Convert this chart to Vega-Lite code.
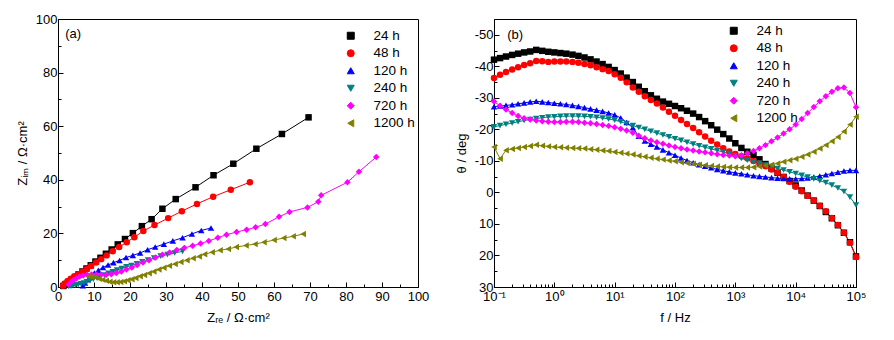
{
"$schema": "https://vega.github.io/schema/vega-lite/v6.json",
"background": "white",
"padding": {"left": 15, "top": 12, "right": 5, "bottom": 5},
"bounds": "flush",
"spacing": 76,
"config": {
  "font": "Liberation Sans",
  "view": {"stroke": "black", "strokeWidth": 1},
  "axis": {"grid": false, "domainColor": "black", "tickColor": "black", "labelColor": "black", "titleColor": "black", "labelFont": "Liberation Sans", "titleFont": "Liberation Sans", "labelFontSize": 13, "titleFontSize": 13, "titleFontWeight": "normal", "labelFlush": false, "labelOverlap": false, "tickSize": -5, "tickWidth": 1, "domainWidth": 1, "labelPadding": 6},
  "axisX": {"labelPadding": 8},
  "legend": {"symbolSize": 49, "labelFontSize": 13.5, "labelFont": "Liberation Sans", "labelColor": "black", "labelOffset": 16, "rowPadding": 2.5, "padding": 0, "symbolStrokeWidth": 1, "orient": "none", "title": null}
},
"resolve": {"scale": {"color": "independent", "shape": "independent"}, "legend": {"color": "independent", "shape": "independent"}},
"datasets": {
"nyq": [
{"s":"24 h","x":1.5,"y":0.4},{"s":"24 h","x":2.0,"y":1.0},{"s":"24 h","x":2.8,"y":1.8},{"s":"24 h","x":3.7,"y":2.7},{"s":"24 h","x":4.7,"y":3.7},{"s":"24 h","x":5.7,"y":4.7},{"s":"24 h","x":6.8,"y":5.8},{"s":"24 h","x":7.9,"y":6.9},{"s":"24 h","x":9.1,"y":8.1},{"s":"24 h","x":10.4,"y":9.5},{"s":"24 h","x":11.8,"y":10.9},{"s":"24 h","x":13.3,"y":12.4},{"s":"24 h","x":14.9,"y":14.0},{"s":"24 h","x":16.6,"y":15.9},{"s":"24 h","x":18.6,"y":17.9},{"s":"24 h","x":20.8,"y":20.1},{"s":"24 h","x":23.3,"y":22.7},{"s":"24 h","x":26.0,"y":25.3},{"s":"24 h","x":29.0,"y":29.2},{"s":"24 h","x":32.7,"y":32.8},{"s":"24 h","x":38.2,"y":37.2},{"s":"24 h","x":43.2,"y":41.7},{"s":"24 h","x":48.7,"y":46.0},{"s":"24 h","x":55.1,"y":51.6},{"s":"24 h","x":62.2,"y":57.1},{"s":"24 h","x":69.6,"y":63.3},
{"s":"48 h","x":1.4,"y":0.5},{"s":"48 h","x":1.9,"y":1.3},{"s":"48 h","x":2.7,"y":2.2},{"s":"48 h","x":3.6,"y":3.1},{"s":"48 h","x":4.6,"y":4.0},{"s":"48 h","x":5.7,"y":4.8},{"s":"48 h","x":6.8,"y":5.7},{"s":"48 h","x":7.9,"y":6.6},{"s":"48 h","x":9.2,"y":7.8},{"s":"48 h","x":10.6,"y":9.1},{"s":"48 h","x":12.0,"y":10.4},{"s":"48 h","x":13.5,"y":11.8},{"s":"48 h","x":15.2,"y":13.3},{"s":"48 h","x":17.0,"y":14.9},{"s":"48 h","x":19.1,"y":16.7},{"s":"48 h","x":21.2,"y":18.6},{"s":"48 h","x":23.7,"y":20.9},{"s":"48 h","x":26.8,"y":23.1},{"s":"48 h","x":30.6,"y":25.7},{"s":"48 h","x":34.4,"y":28.3},{"s":"48 h","x":38.6,"y":31.0},{"s":"48 h","x":43.1,"y":33.7},{"s":"48 h","x":48.0,"y":36.3},{"s":"48 h","x":53.3,"y":39.1},
{"s":"120 h","x":6.9,"y":0.5},{"s":"120 h","x":7.5,"y":1.5},{"s":"120 h","x":8.3,"y":2.7},{"s":"120 h","x":9.1,"y":4.0},{"s":"120 h","x":10.1,"y":5.2},{"s":"120 h","x":11.2,"y":6.2},{"s":"120 h","x":12.5,"y":7.3},{"s":"120 h","x":13.9,"y":8.2},{"s":"120 h","x":15.4,"y":9.1},{"s":"120 h","x":17.1,"y":9.9},{"s":"120 h","x":18.9,"y":11.0},{"s":"120 h","x":20.8,"y":11.8},{"s":"120 h","x":22.8,"y":12.7},{"s":"120 h","x":24.9,"y":13.9},{"s":"120 h","x":27.0,"y":14.9},{"s":"120 h","x":29.4,"y":16.0},{"s":"120 h","x":31.9,"y":17.2},{"s":"120 h","x":34.6,"y":18.4},{"s":"120 h","x":37.2,"y":19.8},{"s":"120 h","x":39.8,"y":21.1},{"s":"120 h","x":42.5,"y":22.0},
{"s":"240 h","x":3.0,"y":0.2},{"s":"240 h","x":3.6,"y":0.3},{"s":"240 h","x":4.2,"y":0.5},{"s":"240 h","x":4.9,"y":0.7},{"s":"240 h","x":5.6,"y":0.9},{"s":"240 h","x":6.4,"y":1.2},{"s":"240 h","x":7.2,"y":1.5},{"s":"240 h","x":8.0,"y":1.9},{"s":"240 h","x":8.9,"y":2.4},{"s":"240 h","x":9.8,"y":2.9},{"s":"240 h","x":10.8,"y":3.4},{"s":"240 h","x":11.8,"y":4.0},{"s":"240 h","x":12.9,"y":4.5},{"s":"240 h","x":14.0,"y":5.1},{"s":"240 h","x":15.2,"y":5.7},{"s":"240 h","x":16.4,"y":6.3},{"s":"240 h","x":17.7,"y":6.9},{"s":"240 h","x":19.0,"y":7.5},{"s":"240 h","x":20.4,"y":8.0},{"s":"240 h","x":21.9,"y":8.7},{"s":"240 h","x":23.4,"y":9.4},{"s":"240 h","x":25.0,"y":10.1},{"s":"240 h","x":26.7,"y":10.8},{"s":"240 h","x":28.5,"y":11.5},{"s":"240 h","x":30.4,"y":12.1},{"s":"240 h","x":32.4,"y":12.7},{"s":"240 h","x":34.6,"y":13.3},
{"s":"720 h","x":3.0,"y":1.0},{"s":"720 h","x":3.6,"y":1.8},{"s":"720 h","x":4.3,"y":2.6},{"s":"720 h","x":5.1,"y":3.3},{"s":"720 h","x":6.0,"y":3.9},{"s":"720 h","x":7.0,"y":4.3},{"s":"720 h","x":8.1,"y":4.6},{"s":"720 h","x":9.3,"y":4.7},{"s":"720 h","x":10.6,"y":4.7},{"s":"720 h","x":12.0,"y":4.6},{"s":"720 h","x":13.4,"y":4.6},{"s":"720 h","x":14.8,"y":4.8},{"s":"720 h","x":16.2,"y":5.2},{"s":"720 h","x":17.6,"y":5.8},{"s":"720 h","x":19.0,"y":6.5},{"s":"720 h","x":20.5,"y":7.3},{"s":"720 h","x":22.0,"y":8.2},{"s":"720 h","x":23.6,"y":9.1},{"s":"720 h","x":25.3,"y":10.0},{"s":"720 h","x":27.1,"y":11.0},{"s":"720 h","x":29.0,"y":12.0},{"s":"720 h","x":31.0,"y":12.9},{"s":"720 h","x":33.0,"y":13.8},{"s":"720 h","x":35.1,"y":14.6},{"s":"720 h","x":37.4,"y":15.4},{"s":"720 h","x":39.6,"y":16.2},{"s":"720 h","x":41.9,"y":17.2},{"s":"720 h","x":44.4,"y":18.4},{"s":"720 h","x":46.8,"y":19.5},{"s":"720 h","x":49.6,"y":20.5},{"s":"720 h","x":52.4,"y":21.4},{"s":"720 h","x":54.9,"y":22.3},{"s":"720 h","x":57.6,"y":23.5},{"s":"720 h","x":61.4,"y":26.2},{"s":"720 h","x":64.3,"y":28.0},{"s":"720 h","x":69.3,"y":29.7},{"s":"720 h","x":72.3,"y":31.8},{"s":"720 h","x":73.1,"y":34.2},{"s":"720 h","x":80.4,"y":39.1},{"s":"720 h","x":83.6,"y":43.0},{"s":"720 h","x":88.4,"y":48.5},
{"s":"1200 h","x":8.5,"y":3.9},{"s":"1200 h","x":9.4,"y":3.8},{"s":"1200 h","x":10.4,"y":3.5},{"s":"1200 h","x":11.4,"y":3.1},{"s":"1200 h","x":12.4,"y":2.7},{"s":"1200 h","x":13.4,"y":2.3},{"s":"1200 h","x":14.4,"y":2.0},{"s":"1200 h","x":15.4,"y":1.8},{"s":"1200 h","x":16.4,"y":1.8},{"s":"1200 h","x":17.4,"y":1.9},{"s":"1200 h","x":18.4,"y":2.1},{"s":"1200 h","x":19.4,"y":2.5},{"s":"1200 h","x":20.5,"y":2.9},{"s":"1200 h","x":21.6,"y":3.4},{"s":"1200 h","x":22.8,"y":4.0},{"s":"1200 h","x":24.0,"y":4.5},{"s":"1200 h","x":25.3,"y":5.1},{"s":"1200 h","x":26.6,"y":5.8},{"s":"1200 h","x":28.0,"y":6.5},{"s":"1200 h","x":29.4,"y":7.2},{"s":"1200 h","x":30.9,"y":7.9},{"s":"1200 h","x":32.5,"y":8.6},{"s":"1200 h","x":34.1,"y":9.3},{"s":"1200 h","x":35.8,"y":10.0},{"s":"1200 h","x":37.5,"y":10.7},{"s":"1200 h","x":39.2,"y":11.4},{"s":"1200 h","x":40.7,"y":12.2},{"s":"1200 h","x":42.8,"y":13.0},{"s":"1200 h","x":45.0,"y":13.7},{"s":"1200 h","x":47.3,"y":14.2},{"s":"1200 h","x":49.5,"y":14.9},{"s":"1200 h","x":52.2,"y":15.5},{"s":"1200 h","x":54.7,"y":16.0},{"s":"1200 h","x":57.2,"y":16.7},{"s":"1200 h","x":60.0,"y":17.5},{"s":"1200 h","x":62.7,"y":18.3},{"s":"1200 h","x":65.3,"y":18.9},{"s":"1200 h","x":68.1,"y":19.8}
],
"bode": [
{"s":"24 h","f":0.1,"t":-42.1},{"s":"24 h","f":0.126,"t":-42.6},{"s":"24 h","f":0.158,"t":-43.1},{"s":"24 h","f":0.2,"t":-43.6},{"s":"24 h","f":0.251,"t":-44.0},{"s":"24 h","f":0.316,"t":-44.4},{"s":"24 h","f":0.398,"t":-44.7},{"s":"24 h","f":0.501,"t":-45.2},{"s":"24 h","f":0.631,"t":-44.9},{"s":"24 h","f":0.794,"t":-44.6},
{"s":"24 h","f":1,"t":-44.4},{"s":"24 h","f":1.26,"t":-44.2},{"s":"24 h","f":1.58,"t":-44.0},{"s":"24 h","f":2,"t":-43.7},{"s":"24 h","f":2.51,"t":-43.3},{"s":"24 h","f":3.16,"t":-42.8},{"s":"24 h","f":3.98,"t":-42.2},{"s":"24 h","f":5.01,"t":-41.5},{"s":"24 h","f":6.31,"t":-40.7},{"s":"24 h","f":7.94,"t":-39.8},
{"s":"24 h","f":10,"t":-38.8},{"s":"24 h","f":12.6,"t":-37.7},{"s":"24 h","f":15.8,"t":-36.4},{"s":"24 h","f":20,"t":-35.0},{"s":"24 h","f":25.1,"t":-33.5},{"s":"24 h","f":31.6,"t":-32.1},{"s":"24 h","f":39.8,"t":-30.8},{"s":"24 h","f":50.1,"t":-29.7},{"s":"24 h","f":63.1,"t":-28.8},{"s":"24 h","f":79.4,"t":-28.1},
{"s":"24 h","f":100,"t":-27.4},{"s":"24 h","f":126,"t":-26.7},{"s":"24 h","f":158,"t":-25.9},{"s":"24 h","f":200,"t":-25.0},{"s":"24 h","f":251,"t":-23.9},{"s":"24 h","f":316,"t":-22.6},{"s":"24 h","f":398,"t":-21.3},{"s":"24 h","f":501,"t":-19.9},{"s":"24 h","f":631,"t":-18.5},{"s":"24 h","f":794,"t":-17.1},
{"s":"24 h","f":1000,"t":-15.6},{"s":"24 h","f":1260,"t":-14.1},{"s":"24 h","f":1580,"t":-12.9},{"s":"24 h","f":2000,"t":-11.8},{"s":"24 h","f":2510,"t":-10.5},{"s":"24 h","f":3160,"t":-9.0},{"s":"24 h","f":3980,"t":-7.6},{"s":"24 h","f":5010,"t":-6.2},{"s":"24 h","f":6310,"t":-4.9},{"s":"24 h","f":7940,"t":-3.6},
{"s":"24 h","f":10000,"t":-2.2},{"s":"24 h","f":12600,"t":-0.6},{"s":"24 h","f":15800,"t":1.0},{"s":"24 h","f":20000,"t":2.6},{"s":"24 h","f":25100,"t":4.3},{"s":"24 h","f":31600,"t":6.2},{"s":"24 h","f":39800,"t":8.2},{"s":"24 h","f":50100,"t":10.4},{"s":"24 h","f":63100,"t":12.8},{"s":"24 h","f":79400,"t":15.8},{"s":"24 h","f":100000,"t":20.3},
{"s":"48 h","f":0.1,"t":-36.3},{"s":"48 h","f":0.126,"t":-37.3},{"s":"48 h","f":0.158,"t":-38.2},{"s":"48 h","f":0.2,"t":-39.0},{"s":"48 h","f":0.251,"t":-39.7},{"s":"48 h","f":0.316,"t":-40.4},{"s":"48 h","f":0.398,"t":-41.0},{"s":"48 h","f":0.501,"t":-41.7},{"s":"48 h","f":0.631,"t":-41.6},{"s":"48 h","f":0.794,"t":-41.4},
{"s":"48 h","f":1,"t":-41.5},{"s":"48 h","f":1.26,"t":-41.5},{"s":"48 h","f":1.58,"t":-41.5},{"s":"48 h","f":2,"t":-41.4},{"s":"48 h","f":2.51,"t":-41.1},{"s":"48 h","f":3.16,"t":-40.7},{"s":"48 h","f":3.98,"t":-40.3},{"s":"48 h","f":5.01,"t":-39.7},{"s":"48 h","f":6.31,"t":-39.1},{"s":"48 h","f":7.94,"t":-38.5},
{"s":"48 h","f":10,"t":-37.5},{"s":"48 h","f":12.6,"t":-36.4},{"s":"48 h","f":15.8,"t":-34.9},{"s":"48 h","f":20,"t":-33.3},{"s":"48 h","f":25.1,"t":-31.9},{"s":"48 h","f":31.6,"t":-30.5},{"s":"48 h","f":39.8,"t":-29.3},{"s":"48 h","f":50.1,"t":-28.2},{"s":"48 h","f":63.1,"t":-26.9},{"s":"48 h","f":79.4,"t":-25.6},
{"s":"48 h","f":100,"t":-24.3},{"s":"48 h","f":126,"t":-23.0},{"s":"48 h","f":158,"t":-21.7},{"s":"48 h","f":200,"t":-20.4},{"s":"48 h","f":251,"t":-19.1},{"s":"48 h","f":316,"t":-17.7},{"s":"48 h","f":398,"t":-16.4},{"s":"48 h","f":501,"t":-15.2},{"s":"48 h","f":631,"t":-14.0},{"s":"48 h","f":794,"t":-13.0},
{"s":"48 h","f":1000,"t":-12.2},{"s":"48 h","f":1260,"t":-11.5},{"s":"48 h","f":1580,"t":-10.8},{"s":"48 h","f":2000,"t":-10.0},{"s":"48 h","f":2510,"t":-9.2},{"s":"48 h","f":3160,"t":-8.3},{"s":"48 h","f":3980,"t":-7.3},{"s":"48 h","f":5010,"t":-6.2},{"s":"48 h","f":6310,"t":-4.9},{"s":"48 h","f":7940,"t":-3.4},
{"s":"48 h","f":10000,"t":-1.8},{"s":"48 h","f":12600,"t":-0.4},{"s":"48 h","f":15800,"t":1.1},{"s":"48 h","f":20000,"t":2.6},{"s":"48 h","f":25100,"t":4.2},{"s":"48 h","f":31600,"t":6.0},{"s":"48 h","f":39800,"t":8.1},{"s":"48 h","f":50100,"t":10.3},{"s":"48 h","f":63100,"t":12.8},{"s":"48 h","f":79400,"t":16.0},{"s":"48 h","f":100000,"t":20.5},
{"s":"120 h","f":0.1,"t":-27.2},{"s":"120 h","f":0.126,"t":-27.4},{"s":"120 h","f":0.158,"t":-27.6},{"s":"120 h","f":0.2,"t":-27.8},{"s":"120 h","f":0.251,"t":-28.1},{"s":"120 h","f":0.316,"t":-28.4},{"s":"120 h","f":0.398,"t":-28.7},{"s":"120 h","f":0.501,"t":-28.9},{"s":"120 h","f":0.631,"t":-28.7},{"s":"120 h","f":0.794,"t":-28.5},
{"s":"120 h","f":1,"t":-28.3},{"s":"120 h","f":1.26,"t":-28.1},{"s":"120 h","f":1.58,"t":-27.9},{"s":"120 h","f":2,"t":-27.6},{"s":"120 h","f":2.51,"t":-27.3},{"s":"120 h","f":3.16,"t":-26.9},{"s":"120 h","f":3.98,"t":-26.5},{"s":"120 h","f":5.01,"t":-26.1},{"s":"120 h","f":6.31,"t":-25.7},{"s":"120 h","f":7.94,"t":-25.2},
{"s":"120 h","f":10,"t":-24.6},{"s":"120 h","f":12.6,"t":-23.6},{"s":"120 h","f":15.8,"t":-22.2},{"s":"120 h","f":20,"t":-20.5},{"s":"120 h","f":25.1,"t":-17.8},{"s":"120 h","f":31.6,"t":-16.3},{"s":"120 h","f":39.8,"t":-15.3},{"s":"120 h","f":50.1,"t":-14.4},{"s":"120 h","f":63.1,"t":-13.5},{"s":"120 h","f":79.4,"t":-12.6},
{"s":"120 h","f":100,"t":-11.8},{"s":"120 h","f":126,"t":-10.9},{"s":"120 h","f":158,"t":-10.1},{"s":"120 h","f":200,"t":-9.4},{"s":"120 h","f":251,"t":-8.8},{"s":"120 h","f":316,"t":-8.3},{"s":"120 h","f":398,"t":-7.8},{"s":"120 h","f":501,"t":-7.3},{"s":"120 h","f":631,"t":-6.9},{"s":"120 h","f":794,"t":-6.5},
{"s":"120 h","f":1000,"t":-6.2},{"s":"120 h","f":1260,"t":-5.9},{"s":"120 h","f":1580,"t":-5.6},{"s":"120 h","f":2000,"t":-5.3},{"s":"120 h","f":2510,"t":-5.1},{"s":"120 h","f":3160,"t":-4.9},{"s":"120 h","f":3980,"t":-4.7},{"s":"120 h","f":5010,"t":-4.5},{"s":"120 h","f":6310,"t":-4.4},{"s":"120 h","f":7940,"t":-4.3},
{"s":"120 h","f":10000,"t":-4.3},{"s":"120 h","f":12600,"t":-4.4},{"s":"120 h","f":15800,"t":-4.6},{"s":"120 h","f":20000,"t":-4.9},{"s":"120 h","f":25100,"t":-5.2},{"s":"120 h","f":31600,"t":-5.6},{"s":"120 h","f":39800,"t":-6.0},{"s":"120 h","f":50100,"t":-6.4},{"s":"120 h","f":63100,"t":-6.8},{"s":"120 h","f":79400,"t":-7.0},{"s":"120 h","f":100000,"t":-7.0},
{"s":"240 h","f":0.1,"t":-20.8},{"s":"240 h","f":0.126,"t":-21.2},{"s":"240 h","f":0.158,"t":-21.6},{"s":"240 h","f":0.2,"t":-22.0},{"s":"240 h","f":0.251,"t":-22.4},{"s":"240 h","f":0.316,"t":-22.8},{"s":"240 h","f":0.398,"t":-23.1},{"s":"240 h","f":0.501,"t":-23.4},{"s":"240 h","f":0.631,"t":-23.7},{"s":"240 h","f":0.794,"t":-23.9},
{"s":"240 h","f":1,"t":-24.0},{"s":"240 h","f":1.26,"t":-24.1},{"s":"240 h","f":1.58,"t":-24.2},{"s":"240 h","f":2,"t":-24.2},{"s":"240 h","f":2.51,"t":-24.2},{"s":"240 h","f":3.16,"t":-24.1},{"s":"240 h","f":3.98,"t":-24.0},{"s":"240 h","f":5.01,"t":-23.8},{"s":"240 h","f":6.31,"t":-23.6},{"s":"240 h","f":7.94,"t":-23.3},
{"s":"240 h","f":10,"t":-22.9},{"s":"240 h","f":12.6,"t":-22.4},{"s":"240 h","f":15.8,"t":-21.8},{"s":"240 h","f":20,"t":-21.2},{"s":"240 h","f":25.1,"t":-20.6},{"s":"240 h","f":31.6,"t":-20.0},{"s":"240 h","f":39.8,"t":-19.4},{"s":"240 h","f":50.1,"t":-18.8},{"s":"240 h","f":63.1,"t":-18.2},{"s":"240 h","f":79.4,"t":-17.6},
{"s":"240 h","f":100,"t":-17.0},{"s":"240 h","f":126,"t":-16.5},{"s":"240 h","f":158,"t":-15.9},{"s":"240 h","f":200,"t":-15.3},{"s":"240 h","f":251,"t":-14.8},{"s":"240 h","f":316,"t":-14.3},{"s":"240 h","f":398,"t":-13.8},{"s":"240 h","f":501,"t":-13.3},{"s":"240 h","f":631,"t":-12.8},{"s":"240 h","f":794,"t":-12.3},
{"s":"240 h","f":1000,"t":-11.6},{"s":"240 h","f":1260,"t":-10.8},{"s":"240 h","f":1580,"t":-10.2},{"s":"240 h","f":2000,"t":-9.7},{"s":"240 h","f":2510,"t":-9.2},{"s":"240 h","f":3160,"t":-8.7},{"s":"240 h","f":3980,"t":-8.2},{"s":"240 h","f":5010,"t":-7.6},{"s":"240 h","f":6310,"t":-7.1},{"s":"240 h","f":7940,"t":-6.5},
{"s":"240 h","f":10000,"t":-6.0},{"s":"240 h","f":12600,"t":-5.4},{"s":"240 h","f":15800,"t":-4.9},{"s":"240 h","f":20000,"t":-4.3},{"s":"240 h","f":25100,"t":-3.7},{"s":"240 h","f":31600,"t":-3.1},{"s":"240 h","f":39800,"t":-2.3},{"s":"240 h","f":50100,"t":-1.4},{"s":"240 h","f":63100,"t":-0.3},{"s":"240 h","f":79400,"t":1.5},{"s":"240 h","f":100000,"t":4.0},
{"s":"720 h","f":0.1,"t":-28.8},{"s":"720 h","f":0.126,"t":-27.5},{"s":"720 h","f":0.158,"t":-26.3},{"s":"720 h","f":0.2,"t":-25.2},{"s":"720 h","f":0.251,"t":-24.2},{"s":"720 h","f":0.316,"t":-23.5},{"s":"720 h","f":0.398,"t":-23.1},{"s":"720 h","f":0.501,"t":-22.8},{"s":"720 h","f":0.631,"t":-22.6},{"s":"720 h","f":0.794,"t":-22.4},
{"s":"720 h","f":1,"t":-22.3},{"s":"720 h","f":1.26,"t":-22.3},{"s":"720 h","f":1.58,"t":-22.4},{"s":"720 h","f":2,"t":-22.4},{"s":"720 h","f":2.51,"t":-22.3},{"s":"720 h","f":3.16,"t":-22.1},{"s":"720 h","f":3.98,"t":-21.9},{"s":"720 h","f":5.01,"t":-21.7},{"s":"720 h","f":6.31,"t":-21.4},{"s":"720 h","f":7.94,"t":-21.1},
{"s":"720 h","f":10,"t":-20.7},{"s":"720 h","f":12.6,"t":-20.2},{"s":"720 h","f":15.8,"t":-19.6},{"s":"720 h","f":20,"t":-18.9},{"s":"720 h","f":25.1,"t":-18.0},{"s":"720 h","f":31.6,"t":-17.2},{"s":"720 h","f":39.8,"t":-16.5},{"s":"720 h","f":50.1,"t":-15.9},{"s":"720 h","f":63.1,"t":-15.4},{"s":"720 h","f":79.4,"t":-14.9},
{"s":"720 h","f":100,"t":-14.4},{"s":"720 h","f":126,"t":-14.0},{"s":"720 h","f":158,"t":-13.6},{"s":"720 h","f":200,"t":-13.3},{"s":"720 h","f":251,"t":-13.0},{"s":"720 h","f":316,"t":-12.7},{"s":"720 h","f":398,"t":-12.4},{"s":"720 h","f":501,"t":-12.1},{"s":"720 h","f":631,"t":-11.9},{"s":"720 h","f":794,"t":-11.7},
{"s":"720 h","f":1000,"t":-11.5},{"s":"720 h","f":1260,"t":-11.8},{"s":"720 h","f":1580,"t":-12.4},{"s":"720 h","f":2000,"t":-13.1},{"s":"720 h","f":2510,"t":-14.0},{"s":"720 h","f":3160,"t":-15.0},{"s":"720 h","f":3980,"t":-16.2},{"s":"720 h","f":5010,"t":-17.4},{"s":"720 h","f":6310,"t":-18.7},{"s":"720 h","f":7940,"t":-20.0},
{"s":"720 h","f":10000,"t":-21.5},{"s":"720 h","f":12600,"t":-23.3},{"s":"720 h","f":15800,"t":-25.2},{"s":"720 h","f":20000,"t":-27.1},{"s":"720 h","f":25100,"t":-28.9},{"s":"720 h","f":31600,"t":-30.5},{"s":"720 h","f":39800,"t":-31.9},{"s":"720 h","f":50100,"t":-33.0},{"s":"720 h","f":63100,"t":-33.3},{"s":"720 h","f":79400,"t":-31.5},{"s":"720 h","f":100000,"t":-27.0},
{"s":"1200 h","f":0.1,"t":-14.4},{"s":"1200 h","f":0.126,"t":-10.7},{"s":"1200 h","f":0.158,"t":-13.4},{"s":"1200 h","f":0.2,"t":-13.8},{"s":"1200 h","f":0.251,"t":-14.1},{"s":"1200 h","f":0.316,"t":-14.4},{"s":"1200 h","f":0.398,"t":-14.7},{"s":"1200 h","f":0.501,"t":-15.1},{"s":"1200 h","f":0.631,"t":-14.8},{"s":"1200 h","f":0.794,"t":-14.6},
{"s":"1200 h","f":1,"t":-14.4},{"s":"1200 h","f":1.26,"t":-14.3},{"s":"1200 h","f":1.58,"t":-14.2},{"s":"1200 h","f":2,"t":-14.1},{"s":"1200 h","f":2.51,"t":-14.0},{"s":"1200 h","f":3.16,"t":-13.9},{"s":"1200 h","f":3.98,"t":-13.7},{"s":"1200 h","f":5.01,"t":-13.5},{"s":"1200 h","f":6.31,"t":-13.3},{"s":"1200 h","f":7.94,"t":-13.1},
{"s":"1200 h","f":10,"t":-12.8},{"s":"1200 h","f":12.6,"t":-12.6},{"s":"1200 h","f":15.8,"t":-12.3},{"s":"1200 h","f":20,"t":-12.0},{"s":"1200 h","f":25.1,"t":-11.6},{"s":"1200 h","f":31.6,"t":-11.3},{"s":"1200 h","f":39.8,"t":-11.0},{"s":"1200 h","f":50.1,"t":-10.7},{"s":"1200 h","f":63.1,"t":-10.4},{"s":"1200 h","f":79.4,"t":-10.1},
{"s":"1200 h","f":100,"t":-9.9},{"s":"1200 h","f":126,"t":-9.6},{"s":"1200 h","f":158,"t":-9.3},{"s":"1200 h","f":200,"t":-9.1},{"s":"1200 h","f":251,"t":-8.8},{"s":"1200 h","f":316,"t":-8.6},{"s":"1200 h","f":398,"t":-8.4},{"s":"1200 h","f":501,"t":-8.2},{"s":"1200 h","f":631,"t":-8.1},{"s":"1200 h","f":794,"t":-8.0},
{"s":"1200 h","f":1000,"t":-7.9},{"s":"1200 h","f":1260,"t":-7.9},{"s":"1200 h","f":1580,"t":-7.9},{"s":"1200 h","f":2000,"t":-8.0},{"s":"1200 h","f":2510,"t":-8.2},{"s":"1200 h","f":3160,"t":-8.5},{"s":"1200 h","f":3980,"t":-8.8},{"s":"1200 h","f":5010,"t":-9.2},{"s":"1200 h","f":6310,"t":-9.7},{"s":"1200 h","f":7940,"t":-10.2},
{"s":"1200 h","f":10000,"t":-10.7},{"s":"1200 h","f":12600,"t":-11.3},{"s":"1200 h","f":15800,"t":-12.0},{"s":"1200 h","f":20000,"t":-12.9},{"s":"1200 h","f":25100,"t":-13.9},{"s":"1200 h","f":31600,"t":-15.0},{"s":"1200 h","f":39800,"t":-16.2},{"s":"1200 h","f":50100,"t":-17.6},{"s":"1200 h","f":63100,"t":-19.3},{"s":"1200 h","f":79400,"t":-21.5},{"s":"1200 h","f":100000,"t":-24.0}
]
},
"hconcat": [
{
  "width": 360, "height": 268,
  "data": {"name": "nyq"},
  "resolve": {"axis": {"x": "independent", "y": "independent"}},
  "layer": [
    {"mark": {"type": "line", "strokeWidth": 1},
     "encoding": {
       "x": {"field": "x", "type": "quantitative", "scale": {"domain": [0, 100], "nice": false}, "axis": {"orient": "bottom", "values": [5,15,25,35,45,55,65,75,85,95], "tickSize": -3, "labels": false, "title": null, "domain": false}},
       "y": {"field": "y", "type": "quantitative", "scale": {"domain": [0, 100], "nice": false}, "axis": {"orient": "left", "values": [10,30,50,70,90], "tickSize": -3, "labels": false, "title": null, "domain": false}},
       "color": {"field": "s", "type": "nominal", "scale": {"domain": ["24 h","48 h","120 h","240 h","720 h","1200 h"], "range": ["#000000","#ff0000","#0000ff","#008080","#ff00ff","#808000"]},
         "legend": {"legendX": 286, "legendY": 10,
           "encode": {"symbols": {"update": {
             "shape": {"signal": "datum.value==='24 h'?'M-4.43,-0.15 L4.43,-0.15 L4.43,0.15 L-4.43,0.15 Z M-1,-1 L1,-1 L1,1 L-1,1 Z':datum.value==='48 h'?'M-4.43,-0.15 L4.43,-0.15 L4.43,0.15 L-4.43,0.15 Z M1,0 A1,1 0 1,1 -1,0 A1,1 0 1,1 1,0 Z':datum.value==='120 h'?'M-4.43,-0.15 L4.43,-0.15 L4.43,0.15 L-4.43,0.15 Z M0,-1.15 L1.15,0.85 L-1.15,0.85 Z':datum.value==='240 h'?'M-4.43,-0.15 L4.43,-0.15 L4.43,0.15 L-4.43,0.15 Z M0,1.15 L-1.15,-0.85 L1.15,-0.85 Z':datum.value==='720 h'?'M-4.43,-0.15 L4.43,-0.15 L4.43,0.15 L-4.43,0.15 Z M0,-1.3 L1.3,0 L0,1.3 L-1.3,0 Z':'M-4.43,-0.15 L4.43,-0.15 L4.43,0.15 L-4.43,0.15 Z M-1.15,0 L0.85,-1.15 L0.85,1.15 Z'"},
             "fill": {"signal": "datum.value==='24 h'?'#000000':datum.value==='48 h'?'#ff0000':datum.value==='120 h'?'#0000ff':datum.value==='240 h'?'#008080':datum.value==='720 h'?'#ff00ff':'#808000'"},
             "opacity": {"value": 1}
           }}}}}
     }},
    {"transform": [{"calculate": "datum.s", "as": "sh"}],
     "mark": {"type": "point", "filled": true, "size": 42, "opacity": 1},
     "encoding": {
       "x": {"field": "x", "type": "quantitative", "axis": {"orient": "bottom", "values": [0,10,20,30,40,50,60,70,80,90,100], "title": "Zᵣₑ / Ω·cm²", "titlePadding": 8}},
       "y": {"field": "y", "type": "quantitative", "axis": {"orient": "left", "values": [0,20,40,60,80,100], "title": "Zᵢₘ / Ω·cm²", "titlePadding": 6}},
       "shape": {"field": "sh", "type": "nominal", "scale": {"domain": ["24 h","48 h","120 h","240 h","720 h","1200 h"], "range": ["square","circle","triangle-up","triangle-down","diamond","triangle-left"]}, "legend": null},
       "color": {"field": "s", "type": "nominal", "scale": {"domain": ["24 h","48 h","120 h","240 h","720 h","1200 h"], "range": ["#000000","#ff0000","#0000ff","#008080","#ff00ff","#808000"]},
         "legend": {"legendX": 286, "legendY": 10,
           "encode": {"symbols": {"update": {
             "shape": {"signal": "datum.value==='24 h'?'M-4.43,-0.15 L4.43,-0.15 L4.43,0.15 L-4.43,0.15 Z M-1,-1 L1,-1 L1,1 L-1,1 Z':datum.value==='48 h'?'M-4.43,-0.15 L4.43,-0.15 L4.43,0.15 L-4.43,0.15 Z M1,0 A1,1 0 1,1 -1,0 A1,1 0 1,1 1,0 Z':datum.value==='120 h'?'M-4.43,-0.15 L4.43,-0.15 L4.43,0.15 L-4.43,0.15 Z M0,-1.15 L1.15,0.85 L-1.15,0.85 Z':datum.value==='240 h'?'M-4.43,-0.15 L4.43,-0.15 L4.43,0.15 L-4.43,0.15 Z M0,1.15 L-1.15,-0.85 L1.15,-0.85 Z':datum.value==='720 h'?'M-4.43,-0.15 L4.43,-0.15 L4.43,0.15 L-4.43,0.15 Z M0,-1.3 L1.3,0 L0,1.3 L-1.3,0 Z':'M-4.43,-0.15 L4.43,-0.15 L4.43,0.15 L-4.43,0.15 Z M-1.15,0 L0.85,-1.15 L0.85,1.15 Z'"},
             "fill": {"signal": "datum.value==='24 h'?'#000000':datum.value==='48 h'?'#ff0000':datum.value==='120 h'?'#0000ff':datum.value==='240 h'?'#008080':datum.value==='720 h'?'#ff00ff':'#808000'"},
             "opacity": {"value": 1}
           }}}}}
     }},
    {"data": {"values": [{"label": "(a)"}]},
     "mark": {"type": "text", "align": "left", "baseline": "middle", "fontSize": 13, "color": "black"},
     "encoding": {
       "x": {"datum": 2, "type": "quantitative", "axis": null},
       "y": {"datum": 94.4, "type": "quantitative", "axis": null},
       "text": {"field": "label"}
     }}
  ]
},
{
  "width": 362, "height": 268,
  "data": {"name": "bode"},
  "resolve": {"axis": {"x": "independent", "y": "independent"}},
  "layer": [
    {"mark": {"type": "line", "strokeWidth": 1},
     "encoding": {
       "x": {"field": "f", "type": "quantitative", "scale": {"type": "log", "domain": [0.1, 100000], "nice": false}, "axis": {"orient": "bottom", "values": [0.2,0.3,0.4,0.5,0.6,0.7,0.8,0.9,2,3,4,5,6,7,8,9,20,30,40,50,60,70,80,90,200,300,400,500,600,700,800,900,2000,3000,4000,5000,6000,7000,8000,9000,20000,30000,40000,50000,60000,70000,80000,90000], "tickSize": -3, "labels": false, "title": null, "domain": false}},
       "y": {"field": "t", "type": "quantitative", "scale": {"domain": [-55, 30], "nice": false, "reverse": true}, "axis": {"orient": "left", "values": [-45,-35,-25,-15,-5,5,15,25], "tickSize": -3, "labels": false, "title": null, "domain": false}},
       "color": {"field": "s", "type": "nominal", "scale": {"domain": ["24 h","48 h","120 h","240 h","720 h","1200 h"], "range": ["#000000","#ff0000","#0000ff","#008080","#ff00ff","#808000"]},
         "legend": {"legendX": 233, "legendY": 5,
           "encode": {"symbols": {"update": {
             "shape": {"signal": "datum.value==='24 h'?'M-4.43,-0.15 L4.43,-0.15 L4.43,0.15 L-4.43,0.15 Z M-1,-1 L1,-1 L1,1 L-1,1 Z':datum.value==='48 h'?'M-4.43,-0.15 L4.43,-0.15 L4.43,0.15 L-4.43,0.15 Z M1,0 A1,1 0 1,1 -1,0 A1,1 0 1,1 1,0 Z':datum.value==='120 h'?'M-4.43,-0.15 L4.43,-0.15 L4.43,0.15 L-4.43,0.15 Z M0,-1.15 L1.15,0.85 L-1.15,0.85 Z':datum.value==='240 h'?'M-4.43,-0.15 L4.43,-0.15 L4.43,0.15 L-4.43,0.15 Z M0,1.15 L-1.15,-0.85 L1.15,-0.85 Z':datum.value==='720 h'?'M-4.43,-0.15 L4.43,-0.15 L4.43,0.15 L-4.43,0.15 Z M0,-1.3 L1.3,0 L0,1.3 L-1.3,0 Z':'M-4.43,-0.15 L4.43,-0.15 L4.43,0.15 L-4.43,0.15 Z M-1.15,0 L0.85,-1.15 L0.85,1.15 Z'"},
             "fill": {"signal": "datum.value==='24 h'?'#000000':datum.value==='48 h'?'#ff0000':datum.value==='120 h'?'#0000ff':datum.value==='240 h'?'#008080':datum.value==='720 h'?'#ff00ff':'#808000'"},
             "opacity": {"value": 1}
           }}}}}
     }},
    {"transform": [{"calculate": "datum.s", "as": "sh"}],
     "mark": {"type": "point", "filled": true, "size": 42, "opacity": 1},
     "encoding": {
       "x": {"field": "f", "type": "quantitative", "axis": {"orient": "bottom", "values": [0.1,1,10,100,1000,10000,100000], "title": "f / Hz", "titlePadding": 8, "labelExpr": "datum.value===0.1?'10⁻¹':datum.value===1?'10⁰':datum.value===10?'10¹':datum.value===100?'10²':datum.value===1000?'10³':datum.value===10000?'10⁴':'10⁵'"}},
       "y": {"field": "t", "type": "quantitative", "axis": {"orient": "left", "values": [-50,-40,-30,-20,-10,0,10,20,30], "title": "θ / deg", "titlePadding": 6, "labelExpr": "'' + datum.value"}},
       "shape": {"field": "sh", "type": "nominal", "scale": {"domain": ["24 h","48 h","120 h","240 h","720 h","1200 h"], "range": ["square","circle","triangle-up","triangle-down","diamond","triangle-left"]}, "legend": null},
       "color": {"field": "s", "type": "nominal", "scale": {"domain": ["24 h","48 h","120 h","240 h","720 h","1200 h"], "range": ["#000000","#ff0000","#0000ff","#008080","#ff00ff","#808000"]},
         "legend": {"legendX": 233, "legendY": 5,
           "encode": {"symbols": {"update": {
             "shape": {"signal": "datum.value==='24 h'?'M-4.43,-0.15 L4.43,-0.15 L4.43,0.15 L-4.43,0.15 Z M-1,-1 L1,-1 L1,1 L-1,1 Z':datum.value==='48 h'?'M-4.43,-0.15 L4.43,-0.15 L4.43,0.15 L-4.43,0.15 Z M1,0 A1,1 0 1,1 -1,0 A1,1 0 1,1 1,0 Z':datum.value==='120 h'?'M-4.43,-0.15 L4.43,-0.15 L4.43,0.15 L-4.43,0.15 Z M0,-1.15 L1.15,0.85 L-1.15,0.85 Z':datum.value==='240 h'?'M-4.43,-0.15 L4.43,-0.15 L4.43,0.15 L-4.43,0.15 Z M0,1.15 L-1.15,-0.85 L1.15,-0.85 Z':datum.value==='720 h'?'M-4.43,-0.15 L4.43,-0.15 L4.43,0.15 L-4.43,0.15 Z M0,-1.3 L1.3,0 L0,1.3 L-1.3,0 Z':'M-4.43,-0.15 L4.43,-0.15 L4.43,0.15 L-4.43,0.15 Z M-1.15,0 L0.85,-1.15 L0.85,1.15 Z'"},
             "fill": {"signal": "datum.value==='24 h'?'#000000':datum.value==='48 h'?'#ff0000':datum.value==='120 h'?'#0000ff':datum.value==='240 h'?'#008080':datum.value==='720 h'?'#ff00ff':'#808000'"},
             "opacity": {"value": 1}
           }}}}}
     }},
    {"data": {"values": [{"label": "(b)"}]},
     "mark": {"type": "text", "align": "left", "baseline": "middle", "fontSize": 13, "color": "black"},
     "encoding": {
       "x": {"datum": 0.166, "type": "quantitative", "axis": null},
       "y": {"datum": -50, "type": "quantitative", "axis": null},
       "text": {"field": "label"}
     }}
  ]
}
]
}
